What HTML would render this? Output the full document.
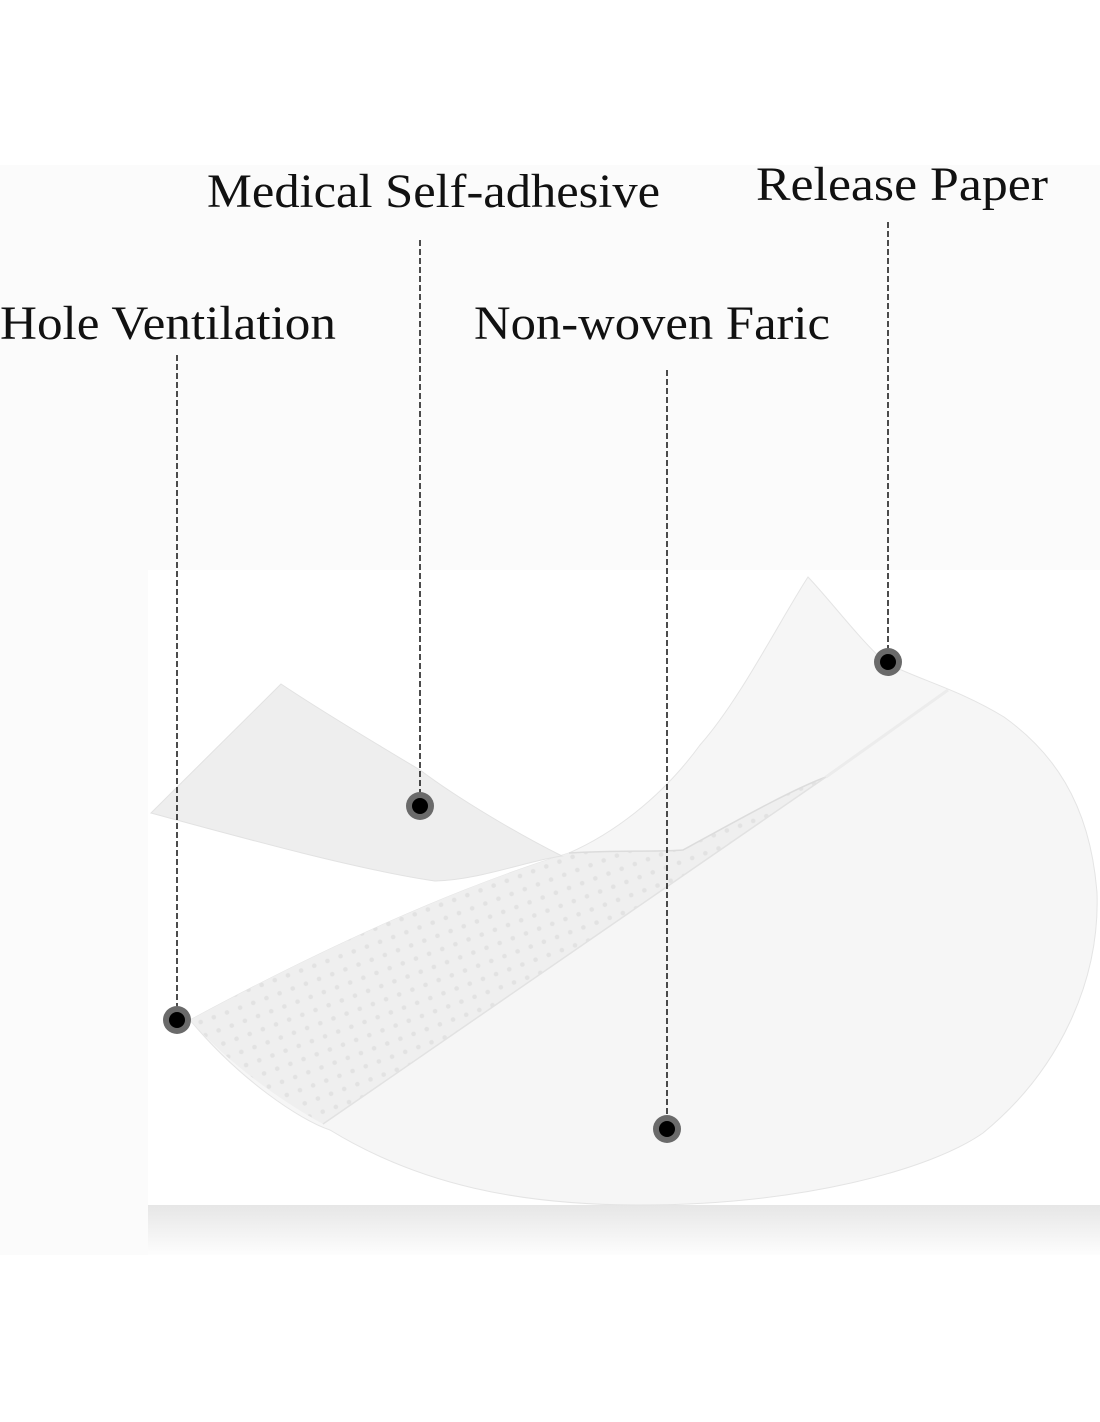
<!DOCTYPE html>
<html><head><meta charset="utf-8"><style>
html,body{margin:0;padding:0;background:#fff;}
svg{display:block;}
</style></head><body>
<svg width="1100" height="1422" viewBox="0 0 1100 1422" xmlns="http://www.w3.org/2000/svg">
<defs>
<pattern id="dots" x="0" y="0" width="14" height="14" patternUnits="userSpaceOnUse" patternTransform="rotate(-20)">
<rect width="14" height="14" fill="#efefef"/>
<circle cx="7" cy="7" r="2.3" fill="#e2e2e2"/>
</pattern>
<linearGradient id="sh" x1="0" y1="0" x2="0" y2="1">
<stop offset="0" stop-color="#e6e6e6"/>
<stop offset="1" stop-color="#fdfdfd"/>
</linearGradient>
</defs>
<rect x="0" y="165" width="1100" height="405" fill="#fbfbfb"/>
<rect x="0" y="570" width="148" height="685" fill="#fbfbfb"/>
<rect x="148" y="1205" width="952" height="50" fill="url(#sh)"/>
<path d="M808,577 C780,620 740,700 700,745 C660,800 610,835 569,853 C450,890 320,950 190,1020 C240,1080 300,1120 330,1130 C420,1185 520,1205 640,1205 C800,1205 930,1170 983,1133 C1060,1070 1100,980 1097,893 C1090,800 1050,750 1004,717 C960,690 920,680 886,663 C860,640 830,600 808,577 Z" fill="#f6f6f6" stroke="#e4e4e4" stroke-width="1"/>
<path d="M190,1020 C320,950 450,890 569,853 C620,850 660,852 683,850 C720,830 790,790 826,777 L323,1124 C280,1100 230,1065 190,1020 Z" fill="url(#dots)"/>
<path d="M569,853 C620,850 660,852 683,850 C720,830 790,790 826,777" fill="none" stroke="#dcdcdc" stroke-width="1.5"/>
<line x1="323" y1="1124" x2="826" y2="777" stroke="#e2e2e2" stroke-width="1.5"/>
<line x1="826" y1="777" x2="948" y2="690" stroke="#ececec" stroke-width="3"/>
<path d="M281,684 L151,813 C250,840 360,870 435,881 C480,880 530,860 562,856 C520,835 460,800 420,770 C370,740 320,710 281,684 Z" fill="#eeeeee" stroke="#e2e2e2"/>
<g stroke="#000" stroke-width="1.4" stroke-dasharray="6,3" fill="none">
<line x1="420" y1="240" x2="420" y2="805"/>
<line x1="888" y1="222" x2="888" y2="662"/>
<line x1="177" y1="355" x2="177" y2="1020"/>
<line x1="667" y1="370" x2="667" y2="1129"/>
</g>
<g>
<circle cx="420" cy="806" r="14" fill="#6a6a6a"/><circle cx="420" cy="806" r="8" fill="#000"/>
<circle cx="888" cy="662" r="14" fill="#6a6a6a"/><circle cx="888" cy="662" r="8" fill="#000"/>
<circle cx="177" cy="1020" r="14" fill="#6a6a6a"/><circle cx="177" cy="1020" r="8" fill="#000"/>
<circle cx="667" cy="1129" r="14" fill="#6a6a6a"/><circle cx="667" cy="1129" r="8" fill="#000"/>
</g>
<g font-family="'Liberation Serif', 'DejaVu Serif', serif" font-size="48" fill="#111">
<text x="207" y="207" textLength="453" lengthAdjust="spacingAndGlyphs">Medical Self-adhesive</text>
<text x="756" y="200" textLength="292" lengthAdjust="spacingAndGlyphs">Release Paper</text>
<text x="0" y="339" textLength="336" lengthAdjust="spacingAndGlyphs">Hole Ventilation</text>
<text x="474" y="339" textLength="356" lengthAdjust="spacingAndGlyphs">Non-woven Faric</text>
</g>
</svg>
</body></html>
